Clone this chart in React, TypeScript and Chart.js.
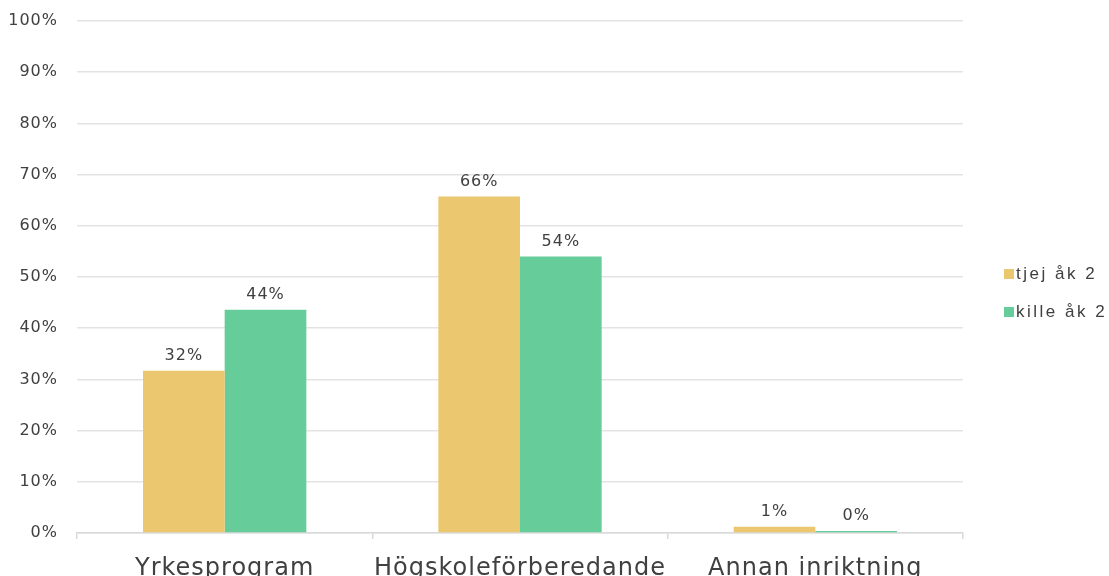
import React, { useEffect, useRef } from "react";
import { Chart, registerables } from "chart.js";

Chart.register(...registerables);

const categories = ["Yrkesprogram", "Högskoleförberedande", "Annan inriktning"];
const seriesNames = ["tjej åk 2", "kille åk 2"];
const tjejValues = [31.7, 65.7, 1.2];
const killeValues = [43.6, 54.0, 0.4];
const labelTjej = ["32%", "66%", "1%"];
const labelKille = ["44%", "54%", "0%"];
const colors = ["#EBC76F", "#66CC99"];

const spacingPlugin = {
  id: "spacing",
  beforeDraw(chart: any) {
    (chart.ctx as any).letterSpacing = "1px";
  },
  afterDraw(chart: any) {
    (chart.ctx as any).letterSpacing = "0px";
  },
};

const dataLabelPlugin = {
  id: "dataLabels",
  afterDatasetsDraw(chart: any) {
    const ctx = chart.ctx;
    const labels = [labelTjej, labelKille];
    ctx.save();
    ctx.font = "16px 'DejaVu Sans'";
    ctx.fillStyle = "#404040";
    ctx.textAlign = "center";
    ctx.textBaseline = "alphabetic";
    (ctx as any).letterSpacing = "1px";
    chart.data.datasets.forEach((_ds: any, di: number) => {
      const meta = chart.getDatasetMeta(di);
      meta.data.forEach((bar: any, i: number) => {
        ctx.fillText(labels[di][i], bar.x, bar.y - 11);
      });
    });
    ctx.restore();
  },
};

const legendPlugin = {
  id: "customLegend",
  afterDraw(chart: any) {
    const ctx = chart.ctx;
    const x = chart.chartArea.right + 41;
    const cy = chart.height / 2;
    ctx.save();
    ctx.font = "17px 'Liberation Sans'";
    (ctx as any).letterSpacing = "2.5px";
    ctx.textAlign = "left";
    ctx.textBaseline = "middle";
    seriesNames.forEach((name, i) => {
      const y = cy - 19 + i * 38;
      ctx.fillStyle = colors[i];
      ctx.fillRect(x, y - 5, 10, 10);
      ctx.fillStyle = "#404040";
      ctx.fillText(name, x + 12, y);
    });
    ctx.restore();
  },
};

export default function App() {
  const ref = useRef<HTMLCanvasElement>(null);
  useEffect(() => {
    if (!ref.current) return;
    const chart = new Chart(ref.current, {
      type: "bar",
      data: {
        labels: categories,
        datasets: [
          { label: seriesNames[0], data: tjejValues, backgroundColor: colors[0] },
          { label: seriesNames[1], data: killeValues, backgroundColor: colors[1] },
        ],
      },
      options: {
        animation: false,
        responsive: true,
        maintainAspectRatio: false,
        layout: { padding: { top: 21, right: 146, left: 0, bottom: 0 } },
        datasets: { bar: { categoryPercentage: 0.553, barPercentage: 1 } },
        scales: {
          x: {
            afterFit: (scale: any) => {
              scale.height = 53;
            },
            grid: {
              drawOnChartArea: false,
              drawTicks: true,
              tickLength: 6,
              color: "#d9d9d9",
              lineWidth: 1.5,
            },
            border: { color: "#d9d9d9", width: 1.5 },
            ticks: {
              color: "#404040",
              font: { family: "'DejaVu Sans'", size: 24 },
              padding: 15,
              maxRotation: 0,
            },
          },
          y: {
            min: 0,
            max: 100,
            afterFit: (scale: any) => {
              scale.width = 77;
              scale.paddingTop = 0;
              scale.paddingBottom = 0;
            },
            ticks: {
              stepSize: 10,
              color: "#404040",
              font: { family: "'DejaVu Sans'", size: 16 },
              padding: 19,
              callback: (v: any) => v + "%",
            },
            grid: { color: "#e3e3e3", lineWidth: 1.5, drawTicks: false },
            border: { display: false },
          },
        },
        plugins: {
          legend: { display: false },
          tooltip: { enabled: false },
        },
      },
      plugins: [spacingPlugin, dataLabelPlugin, legendPlugin],
    });
    return () => chart.destroy();
  }, []);
  return (
    <div style={{ position: "absolute", left: 0, top: 0, width: 1109, height: 586 }}>
      <canvas ref={ref} />
    </div>
  );
}
